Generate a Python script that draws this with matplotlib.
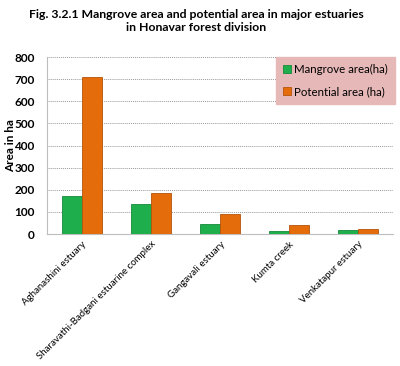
import matplotlib
matplotlib.use("Agg")
import matplotlib.pyplot as plt
import numpy as np

categories = ["Aghanashini estuary", "Sharavathi-Badgani estuarine complex",
              "Gangavali estuary", "Kumta creek", "Venkatapur estuary"]
mangrove = [170, 135, 45, 12, 20]
potential = [710, 185, 92, 40, 23]
yticks = [0, 100, 200, 300, 400, 500, 600, 700, 800]

plt.rcParams['font.family'] = ['Lato', 'DejaVu Sans']

fig = plt.figure(figsize=(4.0, 3.66), dpi=100)
ax = fig.add_axes([47/400, 1-234/366, 346/400, 177/366])

x = np.arange(len(categories))
w = 0.29
ax.bar(x - w/2, mangrove, w, color='#1fae4c', edgecolor='#178a3a', linewidth=0.6,
       label='Mangrove area(ha)', zorder=3)
ax.bar(x + w/2, potential, w, color='#e46c0a', edgecolor='#b5540a', linewidth=0.6,
       label='Potential area (ha)', zorder=3)

ax.set_xlim(-0.5, len(categories) - 0.5)
ax.set_ylim(0, 800)
ax.set_yticks(yticks)
ax.set_yticklabels([str(v) for v in yticks], fontsize=8.5, fontweight='bold')
ax.set_xticks(x)
ax.set_xticklabels(categories, rotation=45, ha='right', rotation_mode='anchor', fontsize=7)
ax.tick_params(axis='y', length=0, pad=9)
ax.tick_params(axis='x', length=0, pad=4)
ax.yaxis.grid(True, linestyle=(0, (1, 1)), color='#9a9a9a', linewidth=0.7, zorder=0)
for s in ['top', 'right']:
    ax.spines[s].set_visible(False)
ax.spines['left'].set_color('#bdbdbd')
ax.spines['bottom'].set_color('#bdbdbd')
ax.set_ylabel('Area in ha', fontsize=8.5, fontweight='bold')
ax.yaxis.set_label_coords(-0.09, 0.5)

leg = ax.legend(loc='upper right', bbox_to_anchor=(1.005, 1.0), fontsize=8.3,
                frameon=True, fancybox=False, handlelength=0.7, handleheight=0.7,
                handletextpad=0.3, labelspacing=1.0, borderpad=0.6, borderaxespad=0.0)
leg.get_frame().set_facecolor('#e6b9b8')
leg.get_frame().set_edgecolor('#e6b9b8')
leg.get_frame().set_alpha(1)
leg.set_zorder(5)

fig.text(0.49, 0.975, "Fig. 3.2.1 Mangrove area and potential area in major estuaries\nin Honavar forest division",
         ha='center', va='top', fontsize=8.8, fontweight='bold', linespacing=1.25)

fig.savefig("out.png", dpi=100)
